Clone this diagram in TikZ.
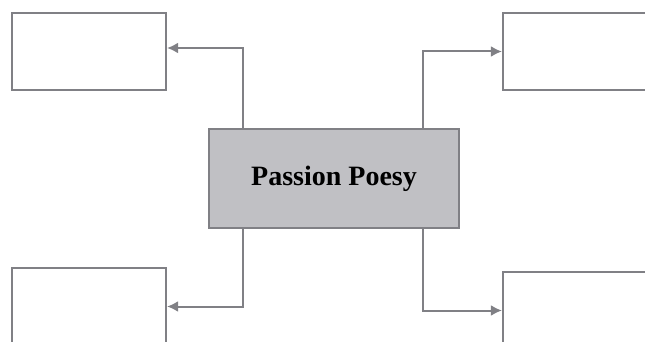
\documentclass[tikz,border=0pt]{standalone}
\usepackage{fontspec}
\setmainfont{Liberation Serif}
\usetikzlibrary{arrows.meta}

\definecolor{linegray}{RGB}{128,128,133}
\definecolor{hubgray}{RGB}{192,192,196}

\begin{document}
\begin{tikzpicture}[x=1pt, y=-1pt,
		box/.style={draw=linegray, line width=2.2pt, fill=white, minimum width=154pt, minimum height=77pt, inner sep=0pt},
		hubbox/.style={box, fill=hubgray, minimum width=250pt, minimum height=99pt, font=\fontsize{28}{34}\selectfont\bfseries},
		link/.style={draw=linegray, line width=2pt, -{Latex[length=11pt, width=11pt]}}]

		\pgfmathsetmacro{\leftoffset}{35}
		\pgfmathsetmacro{\rightoffset}{37}

		\clip (0, 0) rectangle (645, 342);

		% draw centre box
		\node[hubbox] (hub) at (334, 178.5) {Passion Poesy};

		% draw outer boxes
		\node[box] (topleft) at (89, 51.5) {};
		\node[box] (topright) at (580, 51.5) {};
		\node[box] (bottomleft) at (89, 306.5) {};
		\node[box] (bottomright) at (580, 310.5) {};

		% draw links
		\draw[link] ([xshift=\leftoffset pt]hub.north west) |- ([yshift=3.5pt]topleft.east);
		\draw[link] ([xshift=-\rightoffset pt]hub.north east) |- (topright.west);
		\draw[link] ([xshift=\leftoffset pt]hub.south west) |- (bottomleft.east);
		\draw[link] ([xshift=-\rightoffset pt]hub.south east) |- (bottomright.west);

	\end{tikzpicture}
\end{document}
